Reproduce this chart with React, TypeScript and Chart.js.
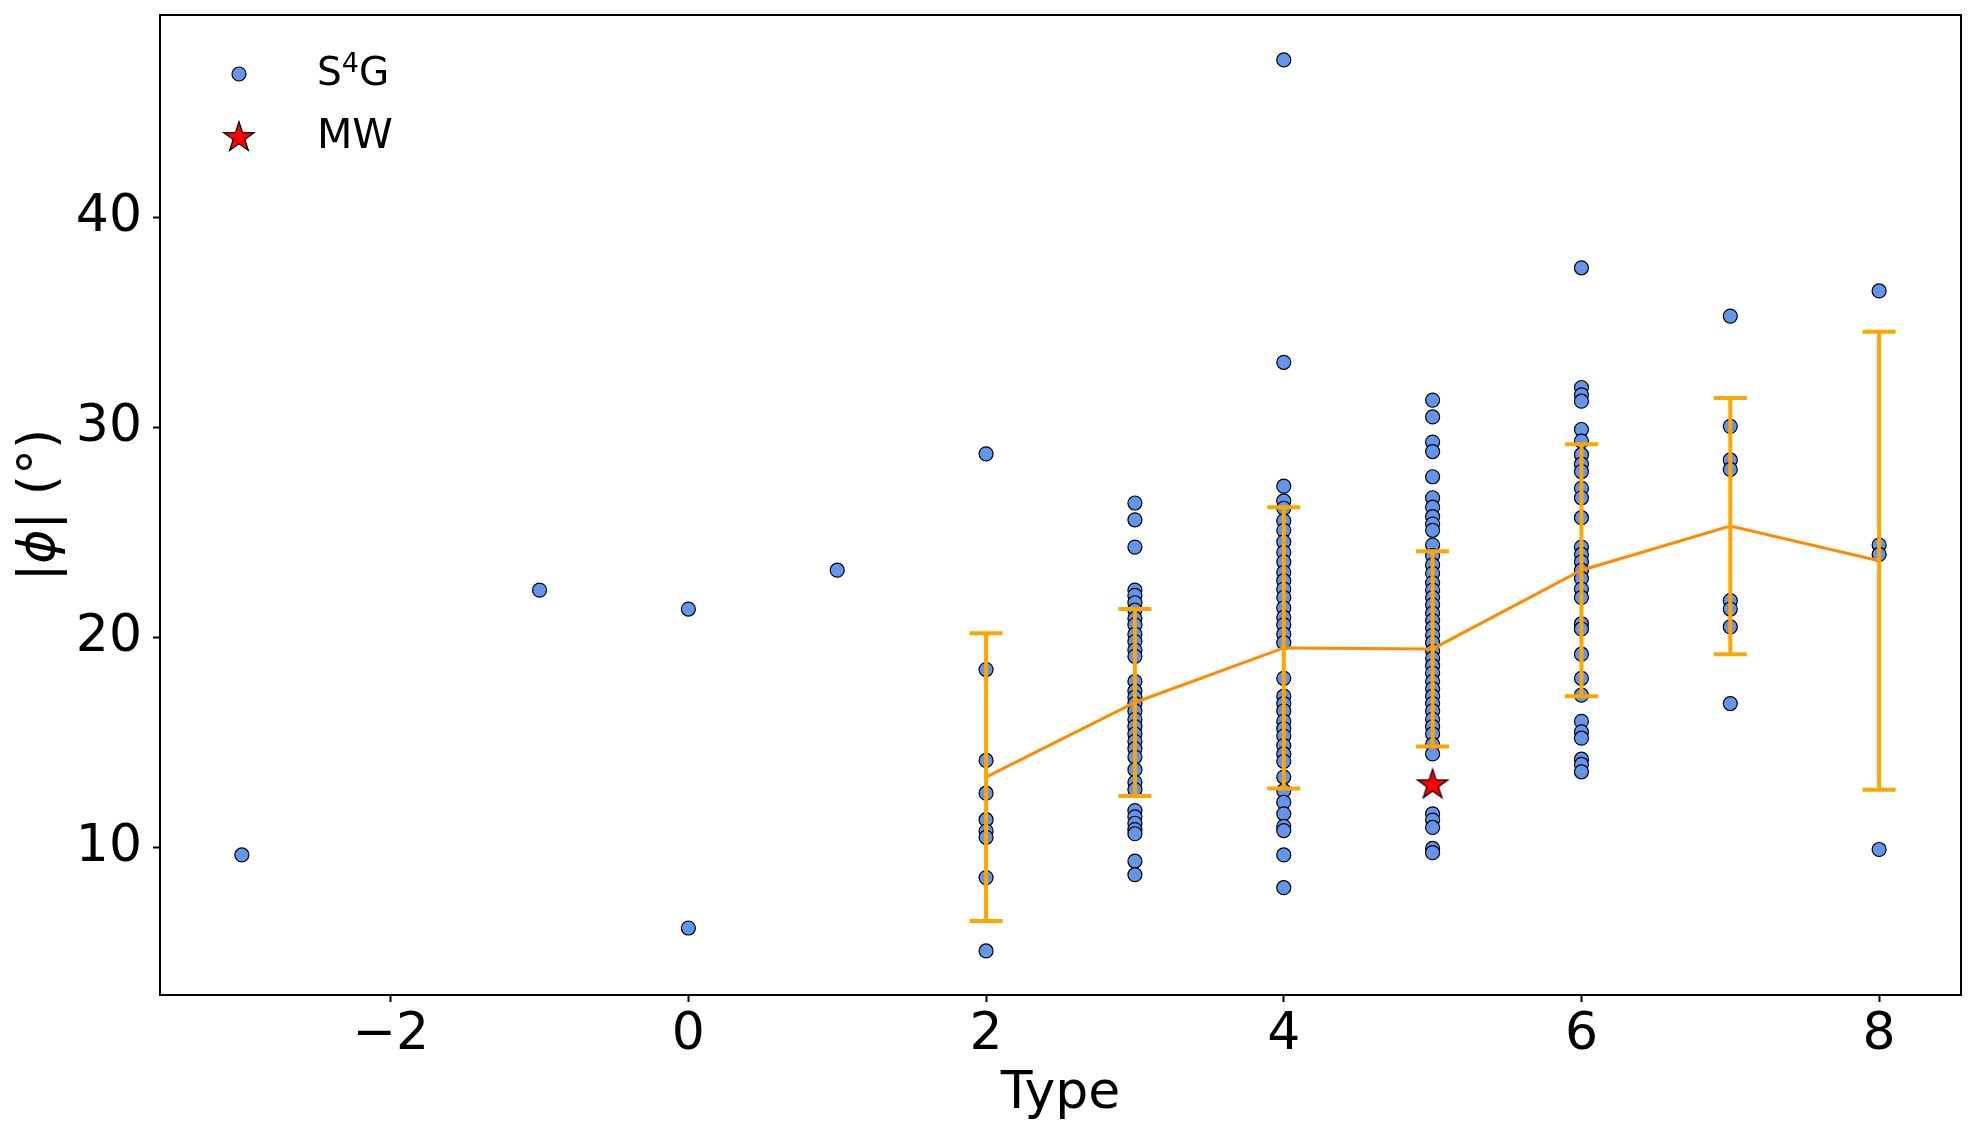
import { useEffect, useRef } from 'react';
import { Chart, registerables } from 'chart.js';

Chart.register(...registerables);

// |phi| values of the S4G galaxies, grouped by morphological type
const phiTypeM3 = [9.64];
const phiTypeM1 = [22.25];
const phiType0 = [21.35, 6.16];
const phiType1 = [23.2];
const phiType2 = [28.74, 18.47, 14.14, 12.58, 11.32, 10.78, 10.48, 8.56, 5.07];
const phiType3 = [
  26.4, 25.6, 24.3, 22.25, 22.0, 21.65, 21.3, 20.9, 20.6, 20.15, 19.8, 19.4, 19.1, 17.9, 17.45, 17.15, 16.85,
  16.5, 16.1, 15.75, 15.4, 15.05, 14.7, 14.3, 13.7, 13.1, 12.75, 11.75, 11.45, 11.15, 10.85, 10.65, 9.35, 8.7,
];
const phiType4 = [
  47.5, 33.1, 27.2, 26.5, 26.15, 25.55, 25.1, 24.55, 24.05, 23.6, 23.1, 22.7, 22.3, 21.9, 21.4, 20.95, 20.6,
  20.15, 19.75, 18.05, 17.2, 16.85, 16.5, 16.0, 15.65, 15.3, 14.85, 14.45, 14.1, 13.35, 12.7, 12.15, 11.6,
  11.0, 10.8, 9.64, 8.08,
];
const phiType5 = [
  31.3, 30.5, 29.3, 28.85, 27.65, 26.65, 26.2, 25.75, 25.4, 25.1, 24.4, 23.9, 23.45, 23.05, 22.6, 22.25, 21.9,
  21.55, 21.15, 20.8, 20.45, 20.1, 19.75, 19.35, 19.0, 18.65, 18.3, 17.9, 17.55, 17.2, 16.85, 16.5, 16.1,
  15.75, 15.4, 14.9, 14.45, 11.6, 11.3, 10.95, 9.95, 9.75,
];
const phiType6 = [
  37.6, 31.9, 31.55, 31.25, 29.9, 29.35, 28.7, 28.25, 27.9, 27.1, 26.65, 25.7, 24.3, 23.95, 23.6, 23.2, 22.8,
  22.3, 21.9, 20.65, 20.4, 19.2, 18.05, 17.25, 16.0, 15.5, 15.2, 14.2, 13.95, 13.6,
];
const phiType7 = [35.3, 30.05, 28.45, 28.0, 21.75, 21.35, 20.5, 16.85];
const phiType8 = [36.5, 24.4, 23.95, 9.9];

const typeGroups: [number, number[]][] = [
  [-3, phiTypeM3],
  [-1, phiTypeM1],
  [0, phiType0],
  [1, phiType1],
  [2, phiType2],
  [3, phiType3],
  [4, phiType4],
  [5, phiType5],
  [6, phiType6],
  [7, phiType7],
  [8, phiType8],
];

// mean |phi| per type and its standard deviation
const meanTypes = [2, 3, 4, 5, 6, 7, 8];
const meanPhi = [13.35, 16.9, 19.5, 19.45, 23.2, 25.3, 23.65];
const stdPhi = [6.85, 4.45, 6.7, 4.65, 6.0, 6.1, 10.9];

// Milky Way
const mwType = 5;
const mwPhi = 13.05;

const xTickValues = [-2, 0, 2, 4, 6, 8];
const yTickValues = [10, 20, 30, 40];

const FONT = "'DejaVu Sans', sans-serif";

function makeStar(outer: number): HTMLCanvasElement {
  const size = Math.ceil(outer * 2 + 4);
  const c = document.createElement('canvas');
  c.width = size;
  c.height = size;
  const ctx = c.getContext('2d')!;
  const cx = size / 2;
  const cy = size / 2 + outer * 0.1;
  const inner = outer * 0.382;
  ctx.beginPath();
  for (let i = 0; i < 10; i++) {
    const r = i % 2 === 0 ? outer : inner;
    const a = -Math.PI / 2 + (i * Math.PI) / 5;
    const px = cx + r * Math.cos(a);
    const py = cy + r * Math.sin(a);
    if (i === 0) ctx.moveTo(px, py);
    else ctx.lineTo(px, py);
  }
  ctx.closePath();
  ctx.fillStyle = '#ff0000';
  ctx.fill();
  ctx.lineWidth = 1.2;
  ctx.strokeStyle = '#000000';
  ctx.stroke();
  return c;
}

export default function App() {
  const canvasRef = useRef<HTMLCanvasElement>(null);
  const chartRef = useRef<Chart | null>(null);

  useEffect(() => {
    if (!canvasRef.current) return;
    if (chartRef.current) chartRef.current.destroy();

    const star = makeStar(16);

    const scatterData = typeGroups.flatMap(([t, vals]) => vals.map((v) => ({ x: t, y: v })));
    const meanData = meanTypes.map((t, i) => ({ x: t, y: meanPhi[i] }));
    const errData: { x: number; y: number | null }[] = [];
    meanTypes.forEach((t, i) => {
      errData.push({ x: t, y: meanPhi[i] - stdPhi[i] });
      errData.push({ x: t, y: meanPhi[i] + stdPhi[i] });
      errData.push({ x: t, y: null });
    });

    // full box around the axes, y title with italic phi, legend in the upper left
    const framePlugin = {
      id: 'frameAndLegend',
      afterDraw(chart: Chart) {
        const { ctx, chartArea } = chart;
        ctx.save();
        ctx.strokeStyle = '#000';
        ctx.lineWidth = 2;
        ctx.strokeRect(chartArea.left, chartArea.top, chartArea.right - chartArea.left, chartArea.bottom - chartArea.top);

        // y axis title: |ϕ| (°)
        const parts: [string, string][] = [
          ['|', `52px ${FONT}`],
          ['\u03D5', `italic 52px ${FONT}`],
          ['| (°)', `52px ${FONT}`],
        ];
        let total = 0;
        parts.forEach(([t, f]) => {
          ctx.font = f;
          total += ctx.measureText(t).width;
        });
        ctx.save();
        ctx.translate(40, (chartArea.top + chartArea.bottom) / 2);
        ctx.rotate(-Math.PI / 2);
        ctx.fillStyle = '#000';
        ctx.textBaseline = 'middle';
        ctx.textAlign = 'left';
        let px = -total / 2;
        parts.forEach(([t, f]) => {
          ctx.font = f;
          ctx.fillText(t, px, 0);
          px += ctx.measureText(t).width;
        });
        ctx.restore();

        const mx = chartArea.left + 79;
        const tx = chartArea.left + 157;
        // S4G marker
        ctx.beginPath();
        ctx.arc(mx, chartArea.top + 59, 7, 0, Math.PI * 2);
        ctx.fillStyle = '#6495ED';
        ctx.fill();
        ctx.lineWidth = 1.2;
        ctx.strokeStyle = '#000';
        ctx.stroke();
        // MW marker
        ctx.drawImage(star, mx - star.width / 2, chartArea.top + 121 - star.height / 2);

        ctx.fillStyle = '#000';
        ctx.textBaseline = 'alphabetic';
        ctx.textAlign = 'left';
        ctx.font = `39px ${FONT}`;
        let x = tx;
        const base1 = chartArea.top + 70;
        ctx.fillText('S', x, base1);
        x += ctx.measureText('S').width;
        ctx.font = `27px ${FONT}`;
        ctx.fillText('4', x, base1 - 13);
        x += ctx.measureText('4').width;
        ctx.font = `39px ${FONT}`;
        ctx.fillText('G', x, base1);
        ctx.font = `41px ${FONT}`;
        ctx.fillText('MW', tx, chartArea.top + 133);
        ctx.restore();
      },
    };

    chartRef.current = new Chart(canvasRef.current, {
      type: 'scatter',
      data: {
        datasets: [
          {
            type: 'scatter',
            label: 'MW',
            data: [{ x: mwType, y: mwPhi }],
            pointStyle: star,
            pointRadius: 16,
            order: 0,
          },
          {
            type: 'line',
            label: 'std',
            data: errData as any,
            borderColor: '#FFA500',
            borderWidth: 4,
            spanGaps: false,
            pointStyle: 'line',
            pointRadius: 16.5,
            pointBorderWidth: 4,
            pointBorderColor: '#FFA500',
            pointBackgroundColor: '#FFA500',
            order: 1,
          },
          {
            type: 'line',
            label: 'mean',
            data: meanData,
            borderColor: '#FF8C00',
            borderWidth: 3,
            pointRadius: 0,
            order: 2,
          },
          {
            type: 'scatter',
            label: 'S4G',
            data: scatterData,
            backgroundColor: '#6495ED',
            borderColor: '#000',
            borderWidth: 1.2,
            pointRadius: 7,
            order: 3,
          },
        ],
      },
      options: {
        responsive: false,
        devicePixelRatio: 1,
        animation: false,
        events: [],
        layout: { autoPadding: false, padding: { left: 0, right: 16, top: 15, bottom: 0 } },
        plugins: {
          legend: { display: false },
          tooltip: { enabled: false },
        },
        scales: {
          x: {
            type: 'linear',
            min: -3.55,
            max: 8.55,
            afterBuildTicks: (scale: any) => {
              scale.ticks = xTickValues.map((v) => ({ value: v }));
            },
            afterFit: (scale: any) => {
              scale.height = 139;
              scale.paddingLeft = 0;
              scale.paddingRight = 0;
            },
            border: { display: false },
            grid: {
              drawOnChartArea: false,
              drawTicks: true,
              tickLength: 7,
              tickWidth: 2,
              tickColor: '#000',
            },
            ticks: {
              padding: 2,
              color: '#000',
              font: { family: FONT, size: 52 },
              maxRotation: 0,
              callback: (v: any) => (Number(v) < 0 ? '\u2212' + Math.abs(Number(v)) : String(v)),
            },
            title: {
              display: true,
              text: 'Type',
              color: '#000',
              font: { family: FONT, size: 52 },
              padding: { top: 0, bottom: 8 },
            },
          },
          y: {
            type: 'linear',
            min: 2.97,
            max: 49.64,
            afterBuildTicks: (scale: any) => {
              scale.ticks = yTickValues.map((v) => ({ value: v }));
            },
            afterFit: (scale: any) => {
              scale.width = 160;
              scale.paddingTop = 0;
              scale.paddingBottom = 0;
            },
            border: { display: false },
            grid: {
              drawOnChartArea: false,
              drawTicks: true,
              tickLength: 7,
              tickWidth: 2,
              tickColor: '#000',
            },
            ticks: {
              padding: 11,
              color: '#000',
              font: { family: FONT, size: 52 },
            },
            title: { display: false },
          },
        },
      },
      plugins: [framePlugin],
    });

    return () => {
      if (chartRef.current) {
        chartRef.current.destroy();
        chartRef.current = null;
      }
    };
  }, []);

  return (
    <div style={{ position: 'fixed', left: 0, top: 0, width: 1977, height: 1134, background: '#fff' }}>
      <canvas ref={canvasRef} width={1977} height={1134} style={{ display: 'block' }} />
    </div>
  );
}
